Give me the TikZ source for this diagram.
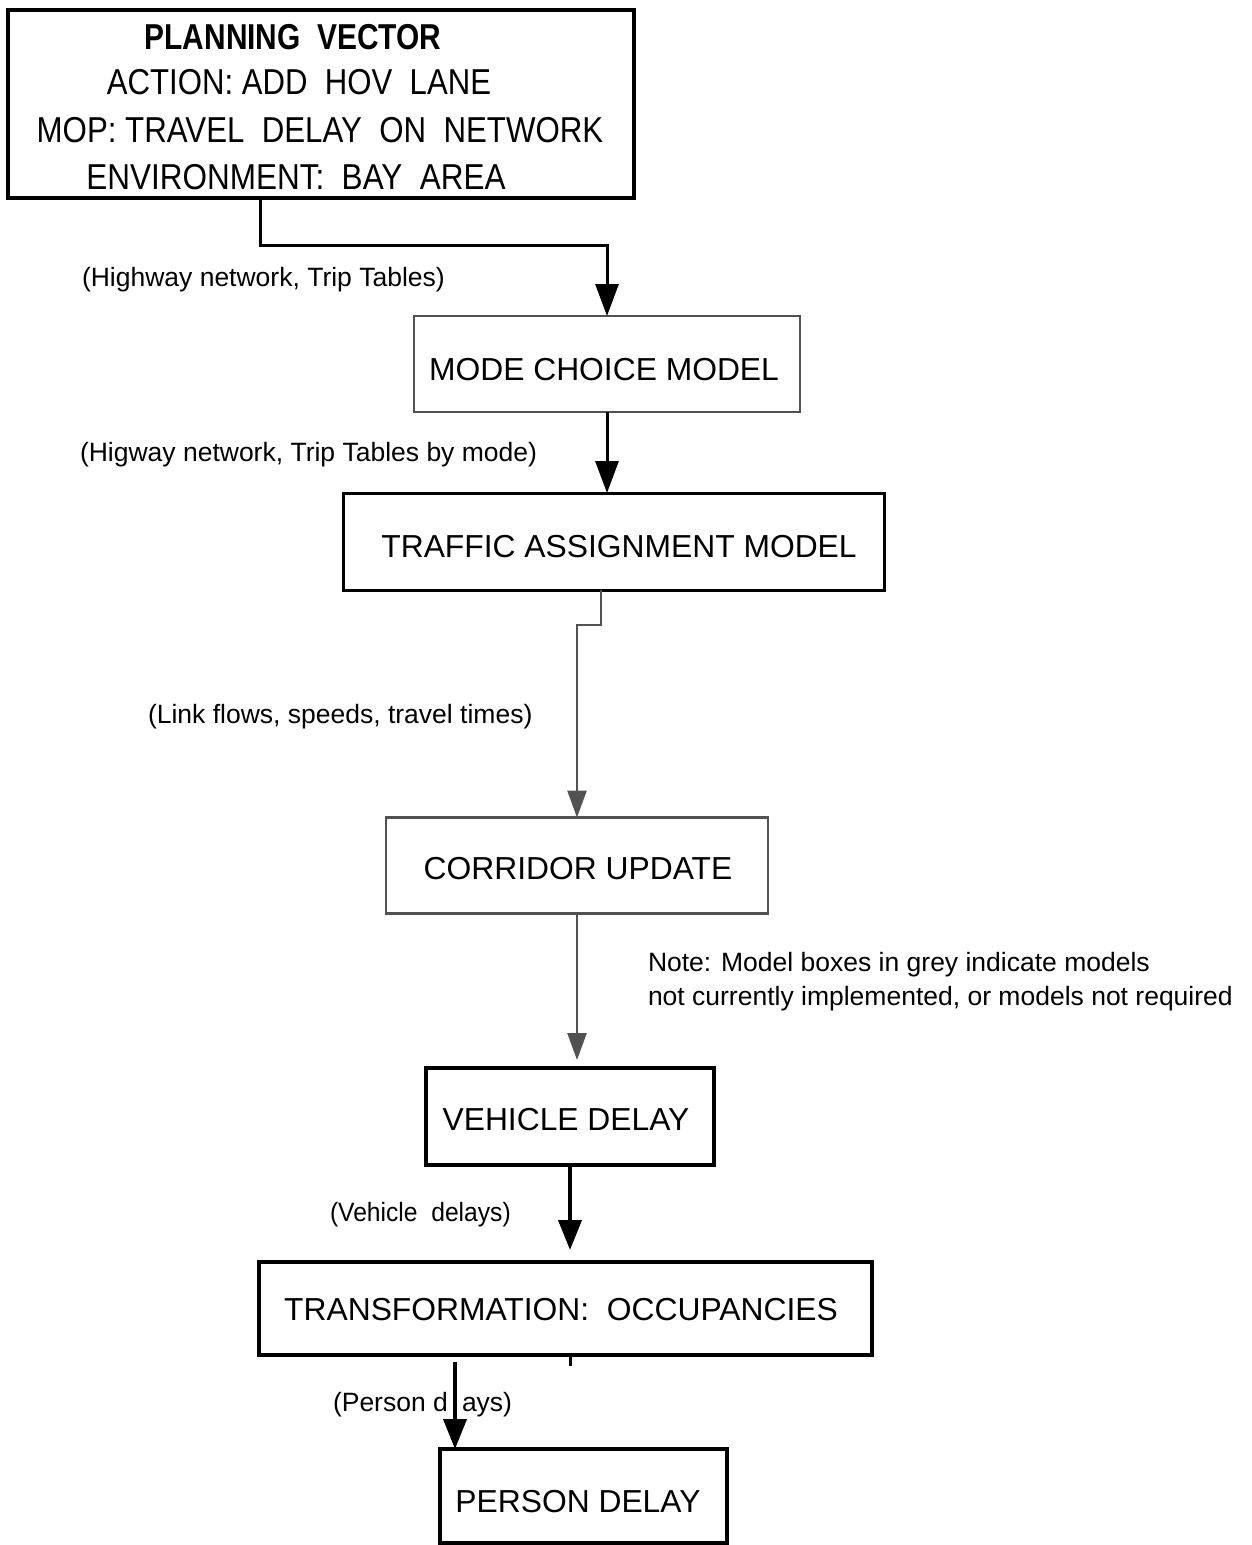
\documentclass[tikz,border=0pt]{standalone}
\usepackage{fontspec}
\setmainfont{Liberation Sans}
\usetikzlibrary{arrows.meta}
\definecolor{greyline}{gray}{0.32}
\begin{document}
\begin{tikzpicture}[x=1pt,y=-1pt,
  boxtxt/.style={font=\fontsize{31.8}{36}\selectfont, inner sep=0pt, outer sep=0pt},
  toptxt/.style={font=\fontsize{36}{40}\selectfont, inner sep=0pt, outer sep=0pt},
  lbl/.style={font=\fontsize{26.5}{31}\selectfont, inner sep=0pt, outer sep=0pt},
  blackbox/.style={draw=black, line width=4pt, rectangle, inner sep=0pt, outer sep=0pt},
  thinbox/.style={draw=black, line width=3pt, rectangle, inner sep=0pt, outer sep=0pt},
  greybox/.style={draw=greyline, line width=2.5pt, rectangle, inner sep=0pt, outer sep=0pt},
  blkarrow/.style={draw=black, line width=3pt, -{Triangle[length=32pt,width=23pt]}},
  heavyarrow/.style={draw=black, line width=4pt, -{Triangle[length=30pt,width=23pt]}},
  greyarrow/.style={draw=greyline, line width=2.5pt, -{Triangle[length=27pt,width=19pt]}}
]
\useasboundingbox (0,0) rectangle (1251,1545);
\fill[white] (0,0) rectangle (1251,1545);

% Planning vector box
\node[blackbox, minimum width=626pt, minimum height=188pt] (pv) at (321,104) {};
\node[toptxt] (pvt1) at (293,37) {\scalebox{0.83}[1]{\bfseries PLANNING\ \ VECTOR}};
\node[toptxt] (pvt2) at (299,82) {\scalebox{0.865}[1]{ACTION:\ ADD\ \ HOV\ \ LANE}};
\node[toptxt] (pvt3) at (320,130) {\scalebox{0.868}[1]{MOP:\ TRAVEL\ \ DELAY\ \ ON\ \ NETWORK}};
\node[toptxt] (pvt4) at (296,177) {\scalebox{0.875}[1]{ENVIRONMENT:\ \ BAY\ \ AREA}};

% Mode choice
\node[greybox, minimum width=386pt, minimum height=96pt] (mc) at (607,364) {};
\node[boxtxt] (mct) at (604,370) {MODE CHOICE MODEL};

% Traffic assignment
\node[thinbox, minimum width=541pt, minimum height=97pt] (ta) at (613.5,541.5) {};
\node[boxtxt] (tat) at (619,547) {TRAFFIC ASSIGNMENT MODEL};

% Corridor update
\node[greybox, minimum width=382pt, minimum height=96pt] (cu) at (577,865.5) {};
\node[boxtxt] (cut) at (578,869) {CORRIDOR UPDATE};

% Vehicle delay
\node[blackbox, minimum width=288pt, minimum height=97pt] (vd) at (570,1116.5) {};
\node[boxtxt] (vdt) at (566,1120) {VEHICLE DELAY};

% Transformation
\node[blackbox, minimum width=613pt, minimum height=93pt] (tr) at (565.5,1308.5) {};
\node[boxtxt] (trt) at (561,1310) {TRANSFORMATION:\ \ OCCUPANCIES};

% Person delay
\node[blackbox, minimum width=287pt, minimum height=94pt] (pd) at (583.5,1496) {};
\node[boxtxt] (pdt) at (578,1502) {PERSON DELAY};

% Labels
\node[lbl, anchor=west] (l1) at (82,280) {(Highway network, Trip Tables)};
\node[lbl, anchor=west] (l2) at (80,455) {(Higway network, Trip Tables by mode)};
\node[lbl, anchor=west] (l3) at (148,717) {(Link flows, speeds, travel times)};
\node[lbl, anchor=west] (note1) at (648,965) {Note: Model boxes in grey indicate models};
\node[lbl, anchor=west] (note2) at (648,999) {not currently implemented, or models not required};
\node[lbl, anchor=west] (l4) at (330,1215) {\scalebox{0.93}[1]{(Vehicle\ \ delays)}};
\node[lbl, anchor=west] (l5a) at (333,1405) {(Person d};
\node[lbl, anchor=west] (l5b) at (462,1405) {ays)};

% Connectors
\coordinate (c1) at (260,245);
\draw[blkarrow] (pv.south -| c1) -- (c1) -| (mc.north);
\draw[blkarrow] (mc.south) -- (mc.south |- ta.north);
\coordinate (c2) at (601,625);
\draw[greyarrow] (ta.south -| c2) -- (c2) -| (cu.north);
\draw[greyarrow, shorten >=8pt] (cu.south) -- (cu.south |- vd.north);
\draw[heavyarrow, shorten >=12pt] (vd.south) -- (vd.south |- tr.north);
\coordinate (c3) at (455,1362);
\draw[heavyarrow] (c3) -- (c3 |- pd.north);
\coordinate (c4) at (570,1366);
\draw[black, line width=3pt] (tr.south -| c4) -- (c4);
\end{tikzpicture}
\end{document}
